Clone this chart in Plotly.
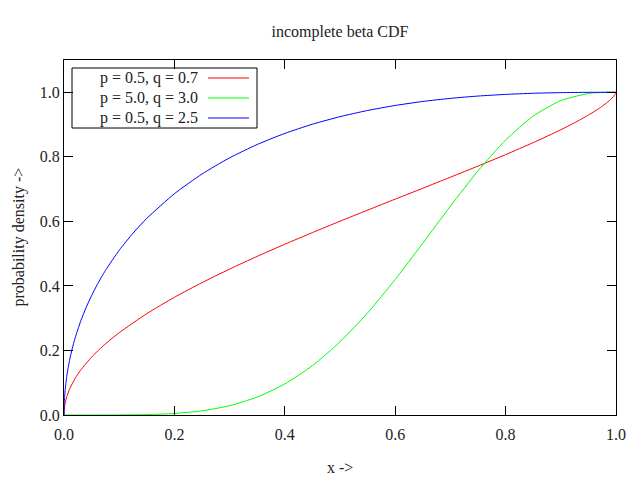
import plotly.graph_objects as go

# Values
x_red = [0, 0.0001, 0.0005, 0.001, 0.002, 0.005, 0.01, 0.02, 0.03, 0.05, 0.075, 0.1, 0.15, 0.2, 0.25,
         0.3, 0.35, 0.4, 0.45, 0.5, 0.55, 0.6, 0.65, 0.7, 0.75, 0.8, 0.85, 0.9, 0.925, 0.95,
         0.97, 0.98, 0.99, 0.995, 0.999, 1.0]
y_red = [0, 0.0080, 0.0179, 0.0252, 0.0357, 0.0565, 0.0799, 0.1131, 0.1387, 0.1794, 0.2203, 0.2550,
         0.3141, 0.3647, 0.4102, 0.4521, 0.4915, 0.5291, 0.5652, 0.6004, 0.6348, 0.6688, 0.7027,
         0.7368, 0.7713, 0.8068, 0.8439, 0.8838, 0.9055, 0.9292, 0.9507, 0.9630, 0.9773, 0.9860,
         0.9955, 1.0]

x_green = [0, 0.05, 0.1, 0.15, 0.2, 0.25, 0.3, 0.35, 0.4, 0.45, 0.5, 0.55, 0.6, 0.65, 0.7, 0.75,
           0.8, 0.85, 0.9, 0.95, 0.975, 1.0]
y_green = [0, 0.0000, 0.0002, 0.0012, 0.0047, 0.0129, 0.0288, 0.0556, 0.0963, 0.1529, 0.2266,
           0.3164, 0.4199, 0.5323, 0.6471, 0.7564, 0.8520, 0.9262, 0.9743, 0.9962, 0.9995, 1.0]

x_blue = [0, 0.0005, 0.001, 0.002, 0.005, 0.0075, 0.01, 0.015, 0.02, 0.03, 0.04, 0.05, 0.06, 0.075,
          0.1, 0.125, 0.15, 0.2, 0.25, 0.3, 0.35, 0.4, 0.45, 0.5, 0.55, 0.6, 0.65, 0.7, 0.75, 0.8,
          0.85, 0.9, 0.95, 1.0]
y_blue = [0, 0.0380, 0.0537, 0.0759, 0.1197, 0.1465, 0.1689, 0.2064, 0.2377, 0.2897, 0.3328, 0.3702,
          0.4035, 0.4477, 0.5104, 0.5634, 0.6093, 0.6856, 0.7468, 0.7969, 0.8382, 0.8725, 0.9010,
          0.9244, 0.9436, 0.9591, 0.9715, 0.9811, 0.9883, 0.9934, 0.9969, 0.9989, 0.9998, 1.0]

series_names = ["p = 0.5, q = 0.7", "p = 5.0, q = 3.0", "p = 0.5, q = 2.5"]
series_colors = ["#ff0000", "#00ff00", "#0000ff"]
tick_vals = [0.0, 0.2, 0.4, 0.6, 0.8, 1.0]
tick_text = ["0.0", "0.2", "0.4", "0.6", "0.8", "1.0"]

FONT = "Liberation Serif, Times New Roman, serif"
FS = 16

fig = go.Figure()
for xs, ys, name, col in zip([x_red, x_green, x_blue], [y_red, y_green, y_blue],
                             series_names, series_colors):
    fig.add_trace(go.Scatter(x=xs, y=ys, mode="lines", name=name,
                             line=dict(color=col, width=1, shape="spline", smoothing=0.6),
                             showlegend=False, hoverinfo="skip"))

L, R, T, B = 64, 24, 60, 65
W, H = 640, 480
pw, ph = W - L - R, H - T - B

def px(xp):
    return (xp - L) / pw

def py(yp):
    return (H - B - yp) / ph

axis_common = dict(showline=True, mirror="ticks", linecolor="black", linewidth=1,
                   ticks="inside", ticklen=9, tickcolor="black", tickwidth=1,
                   showgrid=False, zeroline=False,
                   tickfont=dict(family=FONT, size=FS, color="#222222"))

fig.update_xaxes(range=[0, 1], tickvals=tick_vals, ticktext=tick_text,
                 ticklabelstandoff=5, **axis_common)
fig.update_yaxes(range=[0, 1.1], tickvals=tick_vals, ticktext=tick_text, **axis_common)

annotations = [
    dict(text="x ->", xref="paper", yref="paper", x=0.5, y=py(467), showarrow=False,
         font=dict(family=FONT, size=FS, color="#222222"), xanchor="center", yanchor="middle"),
    dict(text="probability density ->", xref="paper", yref="paper", x=px(18), y=0.5,
         textangle=-90, showarrow=False, font=dict(family=FONT, size=FS, color="#222222"),
         xanchor="center", yanchor="middle"),
]
shapes = [dict(type="rect", xref="paper", yref="paper", x0=px(72), x1=px(257),
               y0=py(128), y1=py(68), line=dict(color="black", width=1), fillcolor="white",
               layer="below")]
row_y = [78, 98, 118]
for name, col, ry in zip(series_names, series_colors, row_y):
    annotations.append(dict(text=name, xref="paper", yref="paper", x=px(200), y=py(ry),
                            xanchor="right", yanchor="middle", showarrow=False,
                            font=dict(family=FONT, size=FS, color="#222222")))
    shapes.append(dict(type="line", xref="paper", yref="paper", x0=px(208), x1=px(249),
                       y0=py(ry), y1=py(ry), line=dict(color=col, width=1)))

fig.update_layout(
    width=W, height=H,
    margin=dict(l=L, r=R, t=T, b=B),
    paper_bgcolor="white", plot_bgcolor="white",
    title=dict(text="incomplete beta CDF", x=0.5, xref="paper", y=1 - 31 / H, yref="container",
               xanchor="center", yanchor="middle",
               font=dict(family=FONT, size=FS, color="#222222")),
    annotations=annotations, shapes=shapes,
    showlegend=False,
)

fig.write_html("out.html")
